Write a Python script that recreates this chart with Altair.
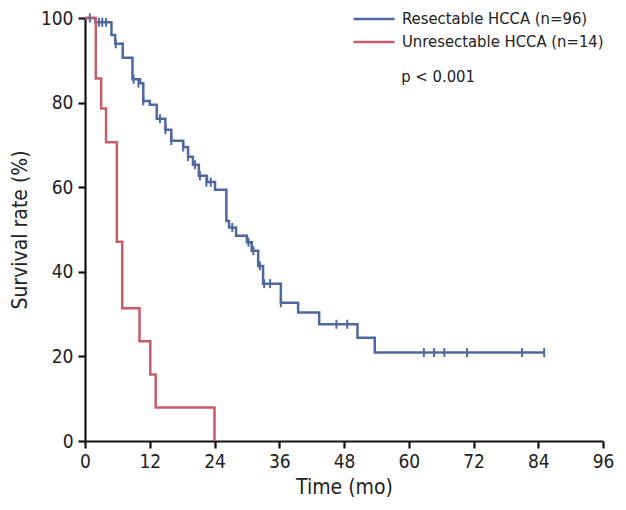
import altair as alt
import pandas as pd

FONT = "DejaVu Sans Condensed, Liberation Sans Narrow, Roboto, Liberation Sans, sans-serif"

groups = ["Resectable HCCA (n=96)", "Unresectable HCCA (n=14)"]
colors = ["#50699C", "#C45C6A"]

# Kaplan-Meier steps (months, survival %)
res_time = [0, 1.9, 4.9, 5.6, 7.0, 8.8, 10.2, 10.8, 12.0, 13.3, 14.9, 16.0, 18.2, 19.1,
            20.0, 21.1, 22.6, 24.1, 26.2, 26.7, 28.0, 30.0, 30.9, 32.1, 33.0, 36.3,
            39.5, 43.4, 50.5, 53.7, 85.1]
res_surv = [100, 99.0, 96.0, 93.9, 90.6, 85.5, 84.6, 80.4, 79.5, 76.2, 73.6, 71.0, 69.5, 67.2,
            65.3, 62.7, 61.2, 59.4, 52.0, 50.5, 48.5, 47.0, 45.0, 41.4, 37.2, 32.7,
            30.4, 27.6, 24.4, 20.9, 20.9]

unres_time = [0, 2.0, 3.0, 3.9, 5.9, 6.9, 10.1, 12.1, 13.1, 24.0]
unres_surv = [100, 85.7, 78.6, 70.6, 47.1, 31.4, 23.6, 15.7, 7.9, 0]

# censored observations (resectable group)
cens_time = [0.9, 2.6, 3.2, 3.9, 5.7, 9.0, 9.9, 10.8, 13.9, 14.9, 16.0, 18.2, 19.1, 20.4,
             21.3, 22.5, 23.3, 27.3, 30.3, 31.2, 32.4, 33.2, 34.3, 36.3, 46.6, 48.6,
             62.8, 64.7, 66.6, 70.8, 81.0, 85.1]
cens_surv = [100, 99.0, 99.0, 99.0, 93.9, 85.5, 84.6, 80.4, 76.2, 73.6, 71.0, 69.5, 67.2, 65.3,
             62.7, 61.2, 61.2, 50.5, 47.0, 45.0, 41.4, 37.2, 37.2, 32.7, 27.6, 27.6,
             20.9, 20.9, 20.9, 20.9, 20.9, 20.9]

x_ticks = [0, 12, 24, 36, 48, 60, 72, 84, 96]
y_ticks = [0, 20, 40, 60, 80, 100]

annot_text = ["p < 0.001"]
annot_x = [58.6]
annot_y = [86]

curves = pd.concat([
    pd.DataFrame({"time": res_time, "surv": res_surv, "group": groups[0]}),
    pd.DataFrame({"time": unres_time, "surv": unres_surv, "group": groups[1]}),
])
cens = pd.DataFrame({"time": cens_time, "surv": cens_surv, "group": groups[0]})
annot = pd.DataFrame({"text": annot_text, "x": annot_x, "y": annot_y})

xscale = alt.Scale(domain=[0, 96], nice=False)
yscale = alt.Scale(domain=[0, 100], nice=False)
cscale = alt.Scale(domain=groups, range=colors)

x_enc = alt.X("time:Q", scale=xscale,
              axis=alt.Axis(values=x_ticks, title="Time (mo)", labelFlush=False,
                            labelPadding=4, titlePadding=5))
y_enc = alt.Y("surv:Q", scale=yscale,
              axis=alt.Axis(values=y_ticks, title="Survival rate (%)",
                            labelPadding=5, titlePadding=10))

lines = alt.Chart(curves).mark_line(interpolate="step-after", strokeWidth=2.5).encode(
    x=x_enc,
    y=y_enc,
    color=alt.Color("group:N", scale=cscale,
                    legend=alt.Legend(title=None, orient="none", legendX=267, legendY=-10,
                                      symbolType="stroke", symbolSize=1681,
                                      symbolStrokeWidth=2.5, labelFont=FONT,
                                      labelFontSize=16.5, labelColor="#222222",
                                      labelLimit=0, clipHeight=22, rowPadding=1,
                                      labelOffset=6, padding=0)),
)

ticks = alt.Chart(cens).mark_tick(orient="vertical", size=9, thickness=2, opacity=1).encode(
    x="time:Q",
    y="surv:Q",
    color=alt.Color("group:N", scale=cscale),
)

label = alt.Chart(annot).mark_text(align="left", baseline="middle", font=FONT,
                                   fontSize=16.5, color="#222222").encode(
    x="x:Q", y="y:Q", text="text:N"
)

chart = alt.layer(lines, ticks, label).properties(
    width=518, height=423,
    autosize=alt.AutoSizeParams(type="none"),
    padding={"left": 77, "top": 10, "right": 15, "bottom": 61},
).configure_view(stroke=None).configure_axis(
    grid=False,
    domainColor="#111111", domainWidth=2.2,
    tickColor="#111111", tickWidth=2.2, tickSize=7,
    labelFont=FONT, labelFontSize=19, labelColor="#222222",
    titleFont=FONT, titleFontSize=21, titleFontWeight="normal", titleColor="#222222",
)

chart.save("out.html", embed_options={"renderer": "svg", "actions": False})
